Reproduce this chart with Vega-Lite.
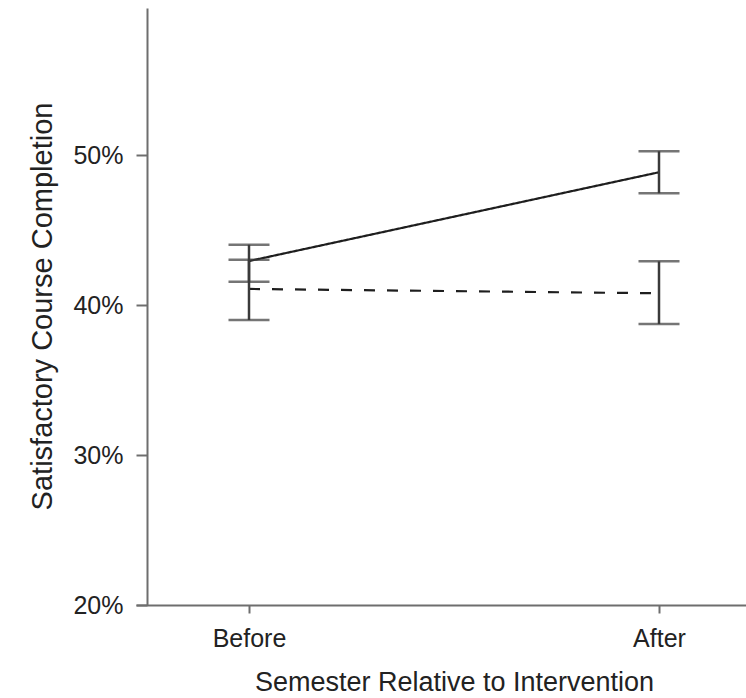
{
  "$schema": "https://vega.github.io/schema/vega-lite/v6.json",
  "autosize": {"type": "none"},
  "padding": {"left": 136, "top": 8, "right": 0, "bottom": 93},
  "width": 610,
  "height": 597,
  "background": "white",
  "config": {
    "view": {"stroke": null},
    "font": "Liberation Sans",
    "axis": {"grid": false}
  },
  "data": {
    "values": [
      {"group": "Intervention", "semester": "Before", "mean": 42.93, "lo": 41.55, "hi": 44.02},
      {"group": "Intervention", "semester": "After", "mean": 48.85, "lo": 47.45, "hi": 50.25},
      {"group": "Control", "semester": "Before", "mean": 41.07, "lo": 39.0, "hi": 43.02},
      {"group": "Control", "semester": "After", "mean": 40.78, "lo": 38.73, "hi": 42.91}
    ]
  },
  "encoding": {
    "x": {
      "field": "semester",
      "type": "nominal",
      "sort": ["Before", "After"],
      "scale": {"type": "point", "domain": ["Before", "After"], "padding": 0.2439, "align": 0.565},
      "axis": {
        "title": "Semester Relative to Intervention",
        "titleFont": "Liberation Sans",
        "titleFontSize": 27,
        "titleFontWeight": "normal",
        "titleColor": "#222222",
        "titleX": 318,
        "titleY": 85,
        "titleBaseline": "alphabetic",
        "titleAnchor": "middle",
        "labelFontSize": 25,
        "labelColor": "#222222",
        "labelPadding": 13,
        "labelAngle": 0,
        "domainColor": "#6e6e6e",
        "domainWidth": 2,
        "tickColor": "#6e6e6e",
        "tickWidth": 2,
        "tickSize": 8
      }
    }
  },
  "layer": [
    {
      "mark": {"type": "line", "color": "#1e1e1e", "strokeWidth": 2.2},
      "encoding": {
        "y": {
          "field": "mean",
          "type": "quantitative",
          "scale": {"domain": [20, 59.8], "nice": false, "zero": false},
          "axis": {
            "title": "Satisfactory Course Completion",
            "values": [20, 30, 40, 50],
            "labelExpr": "datum.value + '%'",
            "offset": -11,
            "tickSize": 11,
            "tickWidth": 2,
            "tickColor": "#6e6e6e",
            "domainColor": "#6e6e6e",
            "domainWidth": 2,
            "labelFontSize": 25,
            "labelColor": "#222222",
            "labelPadding": 13,
            "titleFont": "Liberation Sans",
            "titleFontSize": 29,
            "titleFontWeight": "normal",
            "titleColor": "#222222",
            "titleX": -90,
            "titleY": 298
          }
        },
        "detail": {"field": "group"},
        "strokeDash": {
          "field": "group",
          "type": "nominal",
          "scale": {"domain": ["Intervention", "Control"], "range": [[1, 0], [11, 12]]},
          "legend": null
        }
      }
    },
    {
      "mark": {"type": "rule", "color": "#3a3a3a", "strokeWidth": 2.5},
      "encoding": {
        "y": {"field": "lo", "type": "quantitative"},
        "y2": {"field": "hi"}
      }
    },
    {
      "mark": {"type": "tick", "color": "#3a3a3a", "size": 41, "thickness": 2.5, "orient": "horizontal"},
      "encoding": {
        "y": {"field": "lo", "type": "quantitative"}
      }
    },
    {
      "mark": {"type": "tick", "color": "#3a3a3a", "size": 41, "thickness": 2.5, "orient": "horizontal"},
      "encoding": {
        "y": {"field": "hi", "type": "quantitative"}
      }
    }
  ]
}
